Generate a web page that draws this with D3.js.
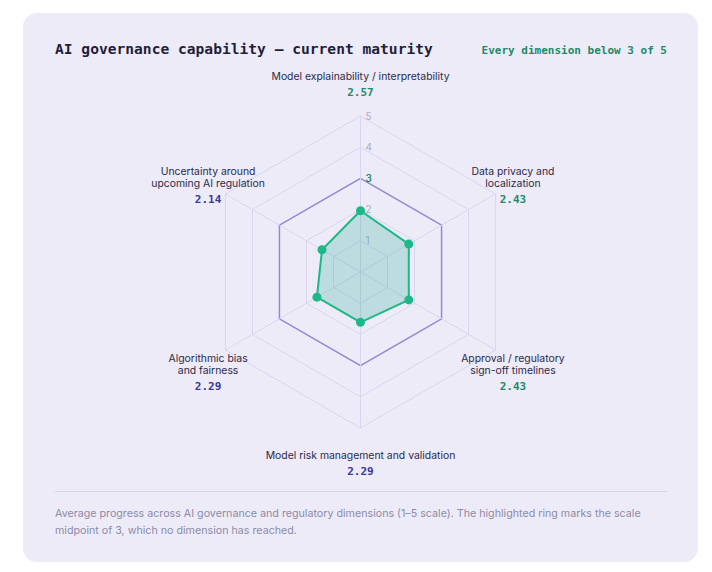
<!DOCTYPE html>
<html>
<head>
<meta charset="utf-8">
<script src="https://cdn.jsdelivr.net/npm/d3@7"></script>
<style>
  body { margin: 0; background: #ffffff; }
  svg { display: block; }
</style>
</head>
<body>
<svg id="chart" width="712" height="572"></svg>
<script>
// data
const dimensions = [
  ["Model explainability / interpretability"],
  ["Data privacy and", "localization"],
  ["Approval / regulatory", "sign-off timelines"],
  ["Model risk management and validation"],
  ["Algorithmic bias", "and fairness"],
  ["Uncertainty around", "upcoming AI regulation"]
];
const scores = [2.57, 2.43, 2.43, 2.29, 2.29, 2.14];
const ringTicks = [1, 2, 3, 4, 5];
const midpoint = 3;

const title = "AI governance capability \u2014 current maturity";
const subtitle = "Every dimension below 3 of 5";
const note = "Average progress across AI governance and regulatory dimensions (1\u20135 scale). The highlighted ring marks the scale midpoint of 3, which no dimension has reached.";

const W = 712, H = 572;
const cx = 360.5, cy = 272, R = 156;
const green = "#1f8a68", indigo = "#3a389c";
const mono = "'DejaVu Sans Mono', 'Liberation Mono', monospace";
const sans = "Inter, 'Noto Sans', sans-serif";

const svg = d3.select("#chart");

// card
svg.append("rect")
    .attr("x", 23).attr("y", 13)
    .attr("width", 675).attr("height", 549)
    .attr("rx", 14)
    .style("fill", "#eeebf9");

svg.append("text")
    .attr("x", 55).attr("y", 54)
    .style("font-family", mono)
    .style("font-size", "14.6px")
    .style("font-weight", "bold")
    .style("fill", "#1f1f3a")
    .text(title);

svg.append("text")
    .attr("x", 667).attr("y", 54)
    .attr("text-anchor", "end")
    .style("font-family", mono)
    .style("font-size", "11px")
    .style("font-weight", "bold")
    .style("fill", green)
    .text(subtitle);

// scales: rings use 0..5, the data uses 1..5
const ringScale = d3.scaleLinear().domain([0, 5]).range([0, R]);
const valueScale = d3.scaleLinear().domain([1, 5]).range([0, R]);
const angle = d3.scaleLinear().domain([0, dimensions.length]).range([0, 2 * Math.PI]);

const g = svg.append("g").attr("transform", `translate(${cx},${cy})`);

const ringLine = d3.lineRadial()
    .angle((d, i) => angle(i))
    .radius(d => d)
    .curve(d3.curveLinearClosed);

// rings
ringTicks.forEach(t => {
  const hi = t === midpoint;
  g.append("path")
      .attr("d", ringLine(dimensions.map(() => ringScale(t))))
      .style("fill", "none")
      .style("stroke", hi ? "#8f89d4" : "#d9d5f0")
      .style("stroke-width", hi ? 1.5 : 1);
});

// spokes
dimensions.forEach((d, i) => {
  const a = angle(i);
  g.append("line")
      .attr("x1", 0).attr("y1", 0)
      .attr("x2", R * Math.sin(a))
      .attr("y2", -R * Math.cos(a))
      .style("stroke", "#d9d5f0")
      .style("stroke-width", 1);
});

// tick labels
ringTicks.forEach(t => {
  const hi = t === midpoint;
  g.append("text")
      .attr("x", 5)
      .attr("y", -ringScale(t))
      .attr("dy", "0.35em")
      .style("font-family", sans)
      .style("font-size", "10px")
      .style("font-weight", hi ? "600" : "normal")
      .style("fill", hi ? green : "#ababc4")
      .text(t);
});

// data polygon
g.append("path")
    .attr("d", ringLine(scores.map(v => valueScale(v))))
    .style("fill", "rgba(40,175,150,0.25)")
    .style("stroke", "#1db887")
    .style("stroke-width", 2)
    .style("stroke-linejoin", "round");

g.selectAll("circle.pt")
  .data(scores)
  .join("circle")
    .attr("class", "pt")
    .attr("cx", (v, i) => valueScale(v) * Math.sin(angle(i)))
    .attr("cy", (v, i) => -valueScale(v) * Math.cos(angle(i)))
    .attr("r", 4.5)
    .style("fill", "#1db887");

// axis labels
const avg = d3.mean(scores);
const labelR = R + 20;
const lineH = 12.5, valueGap = 16, cap = 8;

dimensions.forEach((lines, i) => {
  const a = angle(i);
  const ax = labelR * Math.sin(a);
  const ay = -labelR * Math.cos(a);
  const c = Math.cos(a);
  const blockH = cap + (lines.length - 1) * lineH + valueGap;
  let top;
  if (Math.abs(c) > 0.9) {
    top = ay - blockH * (1 + c) / 2 + (c < 0 ? 3 : 0);
  } else {
    top = ay - blockH / 2 + (c < 0 ? 12 : 1);
  }
  const txt = g.append("text")
      .attr("text-anchor", "middle")
      .style("font-family", sans)
      .style("font-size", "10.4px")
      .style("fill", "#2a2a48");
  lines.forEach((l, k) => {
    txt.append("tspan")
        .attr("x", ax)
        .attr("y", top + cap + k * lineH)
        .text(l);
  });
  g.append("text")
      .attr("x", ax)
      .attr("y", top + cap + (lines.length - 1) * lineH + valueGap)
      .attr("text-anchor", "middle")
      .style("font-family", mono)
      .style("font-size", "11px")
      .style("font-weight", "bold")
      .style("fill", scores[i] > avg ? green : indigo)
      .text(scores[i].toFixed(2));
});

// divider + note
svg.append("line")
    .attr("x1", 55).attr("x2", 667)
    .attr("y1", 491.5).attr("y2", 491.5)
    .style("stroke", "#d6d3ea")
    .style("stroke-width", 1);

const noteText = svg.append("text")
    .style("font-family", sans)
    .style("font-size", "10.7px")
    .style("fill", "#8c8ca6");
const words = note.split(" ");
let line = [], row = 0;
let tspan = noteText.append("tspan").attr("x", 55).attr("y", 517);
words.forEach(w => {
  line.push(w);
  tspan.text(line.join(" "));
  if (tspan.node().getComputedTextLength() > 605 && line.length > 1) {
    line.pop();
    tspan.text(line.join(" "));
    line = [w];
    row++;
    tspan = noteText.append("tspan").attr("x", 55).attr("y", 517 + row * 16.5).text(w);
  }
});
</script>
</body>
</html>
